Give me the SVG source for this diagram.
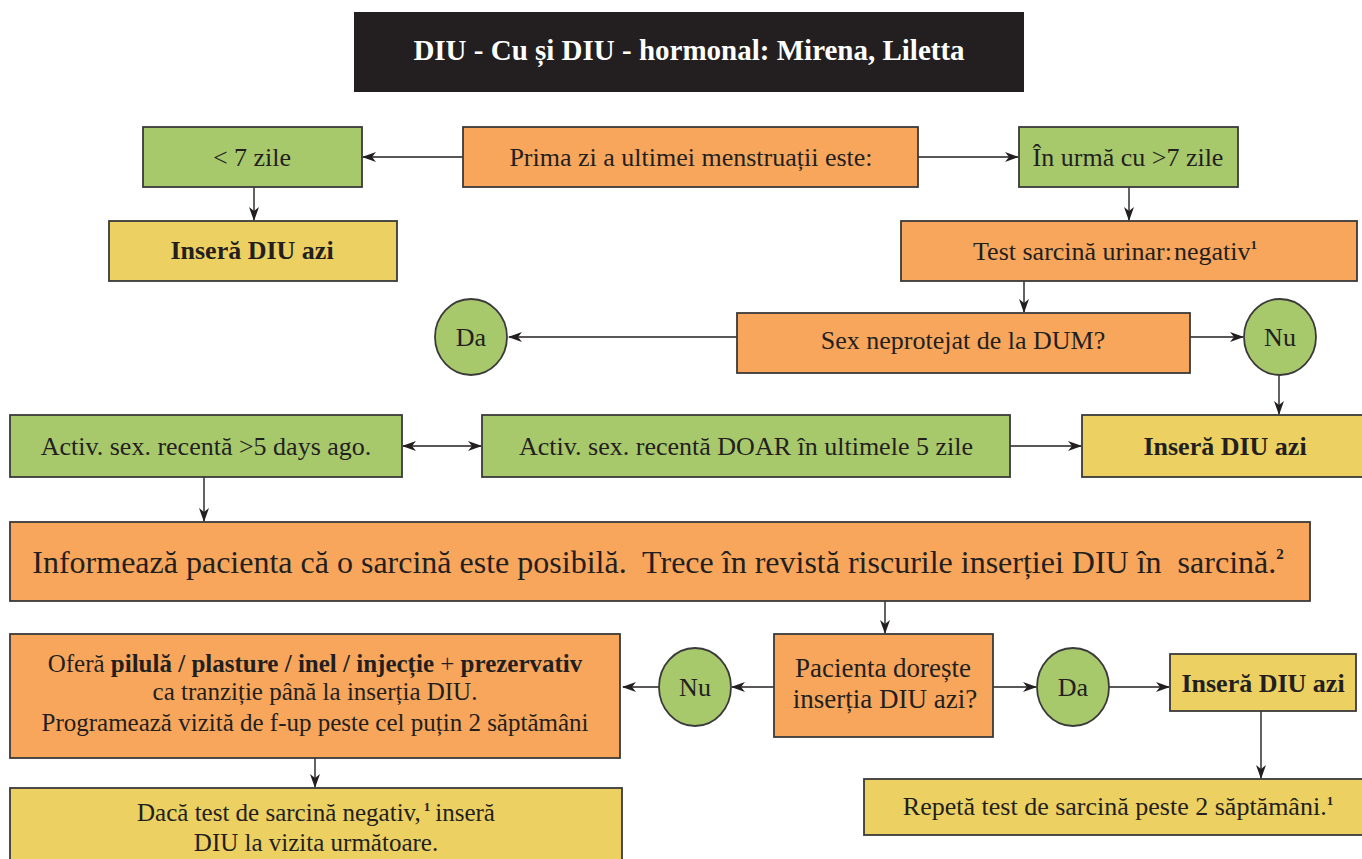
<svg xmlns="http://www.w3.org/2000/svg" width="1362" height="859" viewBox="0 0 1362 859">
<style>
.g{fill:#A8C86C;stroke:#3A3A3A;stroke-width:1.8}
.o{fill:#F7A65C;stroke:#3A3A3A;stroke-width:1.8}
.y{fill:#ECD061;stroke:#3A3A3A;stroke-width:1.8}
.t{font-family:"Liberation Serif","Times New Roman",serif;font-size:26px;fill:#231F20;text-anchor:middle}
.b{font-weight:bold}
.sup{font-size:13px;font-weight:bold}
.c{fill:none;stroke:#231F20;stroke-width:1.4}
</style>
<defs>
<marker id="ah" markerUnits="userSpaceOnUse" viewBox="0 0 14 10" refX="13" refY="5" markerWidth="14" markerHeight="10" orient="auto-start-reverse">
<path d="M0,0 L14,5 L0,10 L4,5 z" fill="#231F20"/>
</marker>
</defs>
<rect width="1362" height="859" fill="#FFFFFF"/>
<g id="title">
<rect x="354" y="12" width="670" height="80" fill="#231F20"/>
<text x="689" y="60" class="t b" style="fill:#FFFFFF;font-size:29px">DIU - Cu și DIU - hormonal: Mirena, Liletta</text>
</g>
<g id="connectors">
<line class="c" x1="463" y1="157" x2="363" y2="157" marker-end="url(#ah)"/>
<line class="c" x1="918" y1="157" x2="1018" y2="157" marker-end="url(#ah)"/>
<line class="c" x1="254" y1="187" x2="254" y2="220" marker-end="url(#ah)"/>
<line class="c" x1="1129" y1="187" x2="1129" y2="220" marker-end="url(#ah)"/>
<line class="c" x1="1024" y1="281" x2="1024" y2="312" marker-end="url(#ah)"/>
<line class="c" x1="737" y1="337" x2="509" y2="337" marker-end="url(#ah)"/>
<line class="c" x1="1190" y1="337" x2="1243" y2="337" marker-end="url(#ah)"/>
<line class="c" x1="1279" y1="375" x2="1279" y2="414" marker-end="url(#ah)"/>
<line class="c" x1="403" y1="446" x2="481" y2="446" marker-start="url(#ah)" marker-end="url(#ah)"/>
<line class="c" x1="1010" y1="446" x2="1081" y2="446" marker-end="url(#ah)"/>
<line class="c" x1="204" y1="477" x2="204" y2="521" marker-end="url(#ah)"/>
<line class="c" x1="885" y1="601" x2="885" y2="633" marker-end="url(#ah)"/>
<line class="c" x1="774" y1="687" x2="732" y2="687" marker-end="url(#ah)"/>
<line class="c" x1="659" y1="687" x2="623" y2="687" marker-end="url(#ah)"/>
<line class="c" x1="993" y1="687" x2="1036" y2="687" marker-end="url(#ah)"/>
<line class="c" x1="1109" y1="687" x2="1169" y2="687" marker-end="url(#ah)"/>
<line class="c" x1="315" y1="758" x2="315" y2="787" marker-end="url(#ah)"/>
<line class="c" x1="1261" y1="711" x2="1261" y2="778" marker-end="url(#ah)"/>
</g>
<g id="lt7">
<rect class="g" x="143" y="127" width="219" height="60"/>
<text class="t" x="252" y="166">&lt; 7 zile</text>
</g>
<g id="insert1">
<rect class="y" x="109" y="221" width="288" height="60"/>
<text class="t b" x="252" y="259">Inseră DIU azi</text>
</g>
<g id="prima">
<rect class="o" x="463" y="127" width="455" height="60"/>
<text class="t" x="691" y="166">Prima zi a ultimei menstruații este:</text>
</g>
<g id="gt7">
<rect class="g" x="1019" y="127" width="219" height="60"/>
<text class="t" x="1128" y="166">În urmă cu &gt;7 zile</text>
</g>
<g id="test">
<rect class="o" x="901" y="221" width="456" height="60"/>
<text class="t" x="1115" y="260">Test sarcină urinar:<tspan dx="2">negativ</tspan><tspan class="sup" dy="-11">1</tspan></text>
</g>
<g id="sex">
<rect class="o" x="737" y="313" width="453" height="60"/>
<text class="t" x="963" y="349">Sex neprotejat de la DUM?</text>
</g>
<g id="da1">
<ellipse class="g" cx="471" cy="337" rx="36" ry="38"/>
<text class="t" x="471" y="346">Da</text>
</g>
<g id="nu1">
<ellipse class="g" cx="1280" cy="337" rx="36" ry="38"/>
<text class="t" x="1280" y="346">Nu</text>
</g>
<g id="gt5">
<rect class="g" x="10" y="415" width="392" height="62"/>
<text class="t" x="206" y="455">Activ. sex. recentă &gt;5 days ago.</text>
</g>
<g id="last5">
<rect class="g" x="482" y="415" width="528" height="62"/>
<text class="t" x="746" y="455">Activ. sex. recentă DOAR în ultimele 5 zile</text>
</g>
<g id="insert2">
<rect class="y" x="1082" y="415" width="282" height="62"/>
<text class="t b" x="1225" y="455">Inseră DIU azi</text>
</g>
<g id="inform">
<rect class="o" x="10" y="522" width="1300" height="79"/>
<text class="t" x="658" y="573" style="font-size:32px;white-space:pre">Informează pacienta că o sarcină este posibilă.  Trece în revistă riscurile inserției DIU în  sarcină.<tspan class="sup" dy="-14" style="font-size:15px">2</tspan></text>
</g>
<g id="ofera">
<rect class="o" x="10" y="634" width="610" height="124"/>
<text class="t" x="315" y="672" style="font-size:25px">Oferă <tspan class="b">pilulă / plasture / inel / injecție</tspan> + <tspan class="b">prezervativ</tspan></text>
<text class="t" x="315" y="700" style="font-size:25px">ca tranziție până la inserția DIU.</text>
<text class="t" x="315" y="731" style="font-size:25px">Programează vizită de f-up peste cel puțin 2 săptămâni</text>
</g>
<g id="nu2">
<ellipse class="g" cx="695" cy="687" rx="36" ry="39"/>
<text class="t" x="695" y="696">Nu</text>
</g>
<g id="pacienta">
<rect class="o" x="774" y="634" width="219" height="103"/>
<text class="t" x="883" y="677" style="font-size:27px">Pacienta dorește</text>
<text class="t" x="885" y="708" style="font-size:27px">inserția DIU azi?</text>
</g>
<g id="da2">
<ellipse class="g" cx="1073" cy="687" rx="36" ry="39"/>
<text class="t" x="1073" y="696">Da</text>
</g>
<g id="insert3">
<rect class="y" x="1170" y="654" width="186" height="57"/>
<text class="t b" x="1263" y="692">Inseră DIU azi</text>
</g>
<g id="daca">
<rect class="y" x="10" y="788" width="612" height="80"/>
<text class="t" x="316" y="821" style="font-size:25px">Dacă test de sarcină negativ,<tspan class="sup" dx="3" dy="-10">1</tspan><tspan dx="5" dy="10">inseră</tspan></text>
<text class="t" x="316" y="851" style="font-size:25px">DIU la vizita următoare.</text>
</g>
<g id="repeta">
<rect class="y" x="864" y="779" width="500" height="56"/>
<text class="t" x="1118" y="815">Repetă test de sarcină peste 2 săptămâni.<tspan class="sup" dy="-10">1</tspan></text>
</g>
</svg>
